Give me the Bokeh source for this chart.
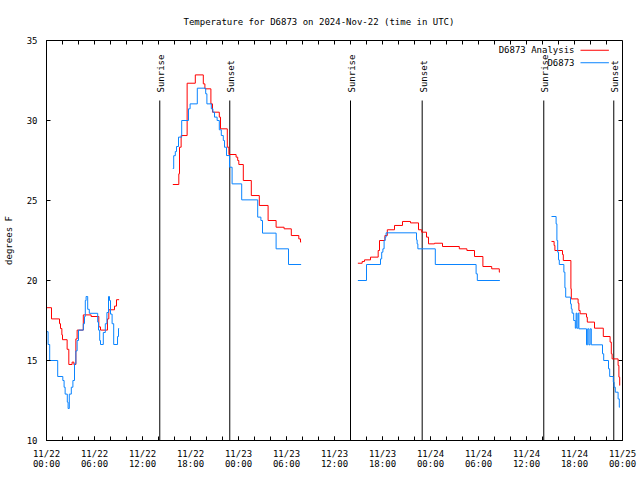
import math
from bokeh.plotting import figure
from bokeh.models import FixedTicker, Label, Range1d
from bokeh.core.properties import value
from bokeh.embed import file_html
from bokeh.resources import INLINE

NaN = float("nan")

# time axis: hours after 2024-11-22 00:00 UTC ; NaN separates gaps
analysis_hours = [
    0.0, 0.625, 1.625, 1.75, 1.92, 2.0, 2.58, 2.79, 3.2, 3.42, 3.67, 3.83, 4.6, 5.58, 6.54, 6.75, 7.62, 7.79, 8.5, 8.75, 9.08,
    NaN,
    15.79, 16.54, 16.625, 16.83, 17.58, 18.6, 19.6, 19.8, 20.55, 20.75, 21.6, 21.75, 22.6, 22.8, 23.7, 23.9, 24.04, 24.6,
    25.6, 26.6, 27.7, 28.7, 29.7, 30.6, 31.54, 31.75, 31.83,
    NaN,
    38.92, 39.46, 39.75, 40.5, 41.46, 41.625, 42.3, 42.6, 43.5, 44.5, 45.5, 46.5, 46.9, 47.5, 47.75, 48.5, 49.5, 51.6,
    52.55, 53.5, 54.55, 55.65, 56.6, 56.67,
    NaN,
    63.125, 63.45, 63.55, 64.5, 64.6, 65.55, 65.6, 66.45, 66.55, 66.7, 67.5, 67.6, 68.5, 69.6, 70.45, 70.6, 70.7, 71.45,
    71.55, 71.65, 71.67,
]
analysis_degf = [
    18.3, 17.6, 17.3, 17.0, 16.6, 16.3, 15.7, 14.75, 14.9, 14.75, 16.35, 16.9, 17.85, 17.75, 17.1, 16.9, 17.6, 18.17, 18.4, 18.8, 18.8,
    NaN,
    26.0, 26.67, 28.33, 29.06, 32.33, 32.85, 32.29, 31.98, 31.04, 30.52, 30.21, 29.48, 28.33, 27.875, 27.71, 27.5, 27.25, 26.25,
    25.31, 24.69, 23.75, 23.33, 23.23, 22.81, 22.6, 22.4, 22.4,
    NaN,
    21.08, 21.19, 21.29, 21.46, 21.875, 22.5, 22.81, 23.17, 23.44, 23.69, 23.6, 23.17, 23.02, 22.71, 22.29, 22.33, 22.125, 21.98,
    21.875, 21.5, 20.875, 20.73, 20.52, 20.52,
    NaN,
    22.44, 22.19, 21.875, 21.625, 21.25, 19.48, 18.85, 18.58, 18.125, 17.92, 17.71, 17.4, 17.02, 16.5, 16.15, 15.42, 15.1, 14.69,
    13.96, 13.44, 13.44,
]

obs_hours = [
    0.0, 0.2, 0.4, 1.4, 2.04, 2.2, 2.33, 2.6, 2.7, 2.85, 3.1, 3.3, 3.5, 3.67, 3.83, 4.0, 4.6, 4.75, 4.85, 4.95, 5.15, 5.35,
    6.4, 6.5, 6.65, 6.75, 7.1, 7.35, 7.55, 7.75, 7.875, 8.0, 8.2, 8.4, 8.88, 9.0, 9.08,
    NaN,
    15.79, 15.9, 16.1, 16.25, 16.5, 16.9, 17.75, 17.95, 18.85, 19.9, 20.05, 20.6, 20.8, 21.0, 21.33, 21.6, 21.85, 22.1,
    22.25, 22.5, 22.875, 23.2, 24.4, 26.4, 26.8, 27.0, 28.7, 30.25, 31.83,
    NaN,
    38.92, 40.0, 41.75, 41.9, 42.05, 42.2, 42.33, 42.45, 46.25, 46.33, 46.42, 48.6, 53.7, 53.85, 56.67,
    NaN,
    63.125, 63.7, 63.8, 63.9, 64.0, 64.1, 64.67, 64.8, 64.9, 65.5, 65.6, 65.7, 65.9, 66.1, 66.2, 66.3, 66.45, 66.55,
    67.5, 67.65, 67.8, 67.95, 68.1, 69.5, 69.65, 70.25, 70.4, 70.85, 70.95, 71.1, 71.45, 71.6, 71.67,
]
obs_degf = [
    16.8, 16.0, 15.0, 14.0, 13.75, 13.33, 12.9, 12.4, 12.0, 12.9, 13.33, 13.75, 14.8, 15.6, 16.25, 16.9, 17.3, 17.75, 18.75, 19.0, 18.2, 17.95,
    17.4, 16.9, 16.25, 16.0, 16.75, 17.3, 18.0, 19.0, 18.75, 17.9, 17.3, 16.0, 16.5, 17.0, 17.0,
    NaN,
    27.0, 27.8, 28.06, 28.375, 28.96, 30.0, 30.73, 31.04, 32.02, 31.67, 31.04, 30.73, 30.52, 30.21, 30.0, 29.42, 29.06, 28.75,
    28.33, 27.81, 27.08, 26.04, 25.04, 23.96, 23.75, 22.96, 21.98, 21.0, 21.0,
    NaN,
    20.0, 21.0, 21.35, 21.77, 21.98, 22.5, 22.71, 22.98, 22.54, 22.29, 21.98, 21.0, 20.42, 20.0, 20.0,
    NaN,
    24.0, 23.54, 22.5, 21.77, 21.29, 21.0, 20.52, 19.54, 18.96, 18.54, 18.23, 17.96, 17.5, 17.02, 17.96, 17.02, 17.96, 16.98,
    15.98, 16.98, 15.98, 16.98, 15.98, 15.42, 15.0, 14.48, 14.0, 13.65, 13.33, 13.02, 12.6, 12.08, 12.08,
]

sun_hours = [14.16, 22.91, 38.0, 46.96, 62.16, 70.91]
sun_labels = ["Sunrise", "Sunset", "Sunrise", "Sunset", "Sunrise", "Sunset"]

tick_hours = [0, 6, 12, 18, 24, 30, 36, 42, 48, 54, 60, 66, 72]
tick_labels = ["11/22\n00:00", "11/22\n06:00", "11/22\n12:00", "11/22\n18:00",
               "11/23\n00:00", "11/23\n06:00", "11/23\n12:00", "11/23\n18:00",
               "11/24\n00:00", "11/24\n06:00", "11/24\n12:00", "11/24\n18:00",
               "11/25\n00:00"]
minor_hours = list(range(0, 73, 2))
y_ticks = [10, 15, 20, 25, 30, 35]

title_text = "Temperature for D6873 on 2024-Nov-22 (time in UTC)"
y_label_text = "degrees F"
series_names = ["D6873 Analysis", "D6873"]
RED = "#ff0000"
BLUE = "#0a84ff"
FONT = "DejaVu Sans Mono"
FS = "9px"

X0, X1, Y0, Y1 = 0, 72, 10, 35
FW, FH = 576, 400


def runs(xs, ys):
    out, cx, cy = [], [], []
    for x, y in zip(xs, ys):
        if math.isnan(x):
            if cx:
                out.append((cx, cy))
            cx, cy = [], []
        else:
            cx.append(x)
            cy.append(y)
    if cx:
        out.append((cx, cy))
    return out


p = figure(frame_width=FW, frame_height=FH,
           x_range=Range1d(X0, X1), y_range=Range1d(Y0, Y1),
           output_backend="svg", toolbar_location=None,
           min_border_left=46, min_border_right=18,
           min_border_top=40, min_border_bottom=40,
           title=title_text)
p.xgrid.visible = False
p.ygrid.visible = False
p.outline_line_color = "black"
p.outline_line_alpha = 1.0
p.background_fill_color = "white"
p.border_fill_color = "white"

p.title.align = "left"
p.title.text_font = FONT
p.title.text_font_size = FS
p.title.text_font_style = "normal"
p.title.text_color = "black"
p.title.offset = 137
p.title.standoff = 28

xa = p.xaxis[0]
xa.ticker = FixedTicker(ticks=tick_hours, minor_ticks=minor_hours)
xa.major_label_overrides = {h: lab for h, lab in zip(tick_hours, tick_labels)}
xa.major_tick_in = 4
xa.major_tick_out = 0
xa.minor_tick_in = 4
xa.minor_tick_out = 0
xa.major_label_standoff = 8
xa.major_label_text_font = FONT
xa.major_label_text_font_size = FS
xa.major_label_text_line_height = 1.05
xa.major_label_text_color = "black"
xa.axis_line_color = "black"
xa.major_tick_line_color = "black"
xa.minor_tick_line_color = "black"

ya = p.yaxis[0]
ya.ticker = FixedTicker(ticks=y_ticks)
ya.major_tick_in = 4
ya.major_tick_out = 0
ya.minor_tick_line_color = None
ya.major_label_standoff = 9
ya.major_label_text_font = FONT
ya.major_label_text_font_size = FS
ya.major_label_text_color = "black"
ya.axis_line_color = "black"
ya.major_tick_line_color = "black"
ya.axis_label = y_label_text
ya.axis_label_text_font = FONT
ya.axis_label_text_font_size = FS
ya.axis_label_text_font_style = "normal"
ya.axis_label_text_color = "black"
ya.axis_label_standoff = 10

# mirrored inward ticks on the top and right edges (gnuplot style)
tick_dy = 4 * (Y1 - Y0) / FH
tick_dx = 4 * (X1 - X0) / FW
p.segment(x0=minor_hours, x1=minor_hours, y0=[Y1] * len(minor_hours),
          y1=[Y1 - tick_dy] * len(minor_hours), line_color="black", line_width=1)
p.segment(x0=[X1] * len(y_ticks), x1=[X1 - tick_dx] * len(y_ticks), y0=y_ticks, y1=y_ticks,
          line_color="black", line_width=1)

# sunrise / sunset markers
p.segment(x0=sun_hours, x1=sun_hours, y0=[Y0] * len(sun_hours), y1=[31.25] * len(sun_hours),
          line_color="black", line_width=1)
p.text(x=sun_hours, y=[31.75] * len(sun_hours), text=sun_labels, angle=math.pi / 2,
       text_align="left", text_baseline="middle", x_offset=1.5,
       text_font=value(FONT), text_font_size=FS, text_color="black")

for xs, ys in runs(analysis_hours, analysis_degf):
    p.step(xs, ys, mode="after", line_color=RED, line_width=1)
for xs, ys in runs(obs_hours, obs_degf):
    p.step(xs, ys, mode="after", line_color=BLUE, line_width=1)

# legend (gnuplot style: text then sample)
leg_y = [34.39, 33.61]
for name, col, yy in zip(series_names, [RED, BLUE], leg_y):
    p.add_layout(Label(x=66.0, y=yy, text=name, text_align="right", text_baseline="middle",
                       text_font=FONT, text_font_size=FS, text_color="black"))
    p.segment(x0=[66.75], x1=[70.3], y0=[yy], y1=[yy], line_color=col, line_width=1)

open("out.html", "w").write(file_html(p, INLINE))
